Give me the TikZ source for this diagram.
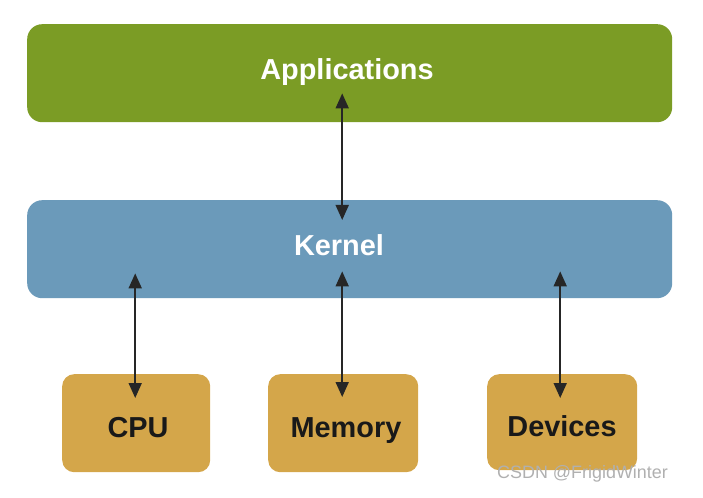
\documentclass[tikz,border=0pt]{standalone}
\usepackage{fontspec}
\setmainfont{Liberation Sans}
\usetikzlibrary{calc,arrows.meta}
\definecolor{appgreen}{HTML}{7B9C25}
\definecolor{kernblue}{HTML}{6B9ABA}
\definecolor{hwgold}{HTML}{D4A64A}
\definecolor{arrgray}{HTML}{262626}
\definecolor{wmgray}{HTML}{B0B0B0}
\tikzset{
  layerbox/.style={rounded corners=15bp, inner sep=0pt, anchor=north west},
  hwbox/.style={rounded corners=12bp, inner sep=0pt, anchor=north west, fill=hwgold},
  boxtext/.style={font=\fontsize{29}{31}\selectfont\bfseries, anchor=base, inner sep=0pt},
  arr/.style={draw=arrgray, line width=1.8bp, {Triangle[length=15bp,width=13bp]}-{Triangle[length=15bp,width=13bp]}}
}
\begin{document}
\begin{tikzpicture}[x=1bp,y=-1bp]
\useasboundingbox (0,0) rectangle (703,498);
% layers
\node[layerbox, fill=appgreen, minimum width=645bp, minimum height=98bp] (apps) at (27,24) {};
\node[layerbox, fill=kernblue, minimum width=645bp, minimum height=98bp] (kernel) at (27,200) {};
\node[hwbox, minimum width=148bp, minimum height=98bp] (cpu) at (62,374) {};
\node[hwbox, minimum width=150bp, minimum height=98bp] (mem) at (268,374) {};
\node[hwbox, minimum width=150bp, minimum height=96bp] (dev) at (487,374) {};
% labels
\node[boxtext, text=white] (appst) at (347,80) {Applications};
\node[boxtext, text=white] (kernt) at (339,256) {Kernel};
\node[boxtext, text=black!90] (cput) at (138,437) {CPU};
\node[boxtext, text=black!90] (memt) at (346,437) {Memory};
\node[boxtext, text=black!90] (devt) at (562,436) {Devices};
% connectors
\draw[arr] ($(apps.south)+(-7.5,-29)$) -- ($(kernel.north)+(-7.5,20)$);
\draw[arr] ($(kernel.south -| cpu.north)+(-1,-25)$) -- ($(cpu.north)+(-1,24)$);
\draw[arr] ($(kernel.south -| mem.north)+(-1,-27)$) -- ($(mem.north)+(-1,23)$);
\draw[arr] ($(kernel.south -| dev.north)+(-2,-27)$) -- ($(dev.north)+(-2,24)$);
% watermark
\node[anchor=base west, inner sep=0pt, text=wmgray, font=\fontsize{18}{20}\selectfont] (wm) at (497,478) {CSDN @FrigidWinter};
\end{tikzpicture}
\end{document}
